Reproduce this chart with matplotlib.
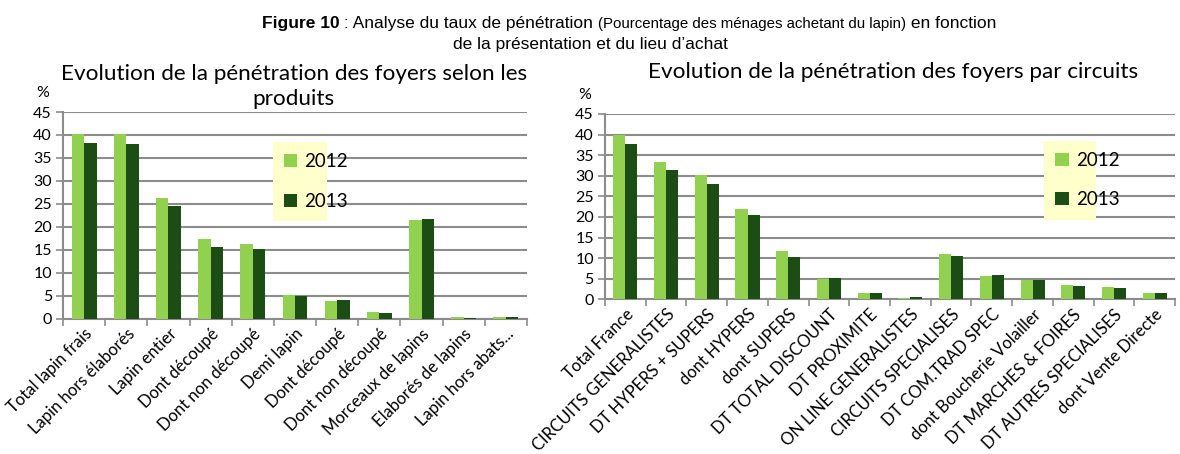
import numpy as np
import matplotlib
matplotlib.use("Agg")
import matplotlib.pyplot as plt
from matplotlib.transforms import offset_copy

# ---- data ----
produits = ["Total lapin frais", "Lapin hors élaborés", "Lapin entier",
            "Dont découpé", "Dont non découpé", "Demi lapin", "Dont découpé",
            "Dont non découpé", "Morceaux de lapins", "Elaborés de lapins",
            "Lapin hors abats..."]
produits_2012 = [40.3, 40.2, 26.2, 17.3, 16.4, 5.2, 3.9, 1.5, 21.6, 0.5, 0.4]
produits_2013 = [38.2, 38.1, 24.6, 15.7, 15.2, 5.0, 4.1, 1.2, 21.7, 0.3, 0.5]

circuits = ["Total France", "CIRCUITS GENERALISTES", "DT HYPERS + SUPERS",
            "dont HYPERS", "dont SUPERS", "DT TOTAL DISCOUNT", "DT PROXIMITE",
            "ON LINE GENERALISTES", "CIRCUITS SPECIALISES", "DT COM.TRAD SPEC",
            "dont Boucherie Volailler", "DT MARCHES & FOIRES",
            "DT AUTRES SPECIALISES", "dont Vente Directe"]
circuits_2012 = [40.0, 33.4, 30.1, 22.0, 11.7, 5.0, 1.6, 0.3, 10.9, 5.6, 4.7, 3.6, 2.9, 1.6]
circuits_2013 = [37.8, 31.4, 28.0, 20.5, 10.3, 5.2, 1.6, 0.7, 10.6, 5.9, 4.7, 3.3, 2.7, 1.5]

years = ["2012", "2013"]
yticks = [0, 5, 10, 15, 20, 25, 30, 35, 40, 45]

LIGHT = "#92d050"
DARK = "#1c4d15"
GRID = "#8c8c8c"
FONT = "Lato"

fig = plt.figure(figsize=(11.8, 4.54), dpi=100)


def draw_chart(rect, labels, v12, v13, legend_rect):
    ax = fig.add_axes(rect)
    x = np.arange(len(labels))
    w = 0.295
    b1 = ax.bar(x - w / 2, v12, w, color=LIGHT, zorder=3)
    b2 = ax.bar(x + w / 2, v13, w, color=DARK, zorder=3)
    ax.set_xlim(-0.5, len(labels) - 0.5)
    ax.set_ylim(0, 45)
    ax.set_yticks(yticks)
    ax.set_yticklabels([str(t) for t in yticks], fontsize=11.5, family=FONT)
    ax.grid(axis="y", color=GRID, linewidth=1.5, zorder=0)
    # category boundary ticks, labels at centres
    ax.set_xticks(np.arange(len(labels) + 1) - 0.5)
    ax.set_xticklabels([])
    ax.set_xticks(x, minor=True)
    ax.set_xticklabels(labels, minor=True, rotation=45, ha="right",
                       rotation_mode="anchor", fontsize=12, family=FONT)
    ax.tick_params(axis="x", which="minor", length=0, pad=5)
    ax.tick_params(axis="x", which="major", length=5, color=GRID, width=1.2)
    ax.tick_params(axis="y", length=5, color=GRID, width=1.2, pad=3)
    for s in ["top", "right"]:
        ax.spines[s].set_visible(False)
    for s in ["left", "bottom"]:
        ax.spines[s].set_color(GRID)
        ax.spines[s].set_linewidth(1.5)
    tr = offset_copy(ax.transAxes, fig=fig, x=-20, y=12, units="dots")
    ax.text(0, 1, "%", transform=tr, fontsize=11.5, family=FONT,
            ha="center", va="bottom")
    leg = ax.legend([b1, b2], years, loc="center", bbox_to_anchor=legend_rect,
                    bbox_transform=fig.transFigure, mode="expand",
                    facecolor="#ffffcc", edgecolor="none", framealpha=1,
                    fancybox=False, handlelength=0.7, handleheight=0.7,
                    handletextpad=0.4, labelspacing=1.2, borderpad=0.6,
                    prop={"family": FONT, "size": 13.5})
    leg.set_zorder(5)
    return ax


ax1 = draw_chart([0.0534, 0.2974, 0.3932, 0.4559], produits, produits_2012,
                 produits_2013, (0.223, 0.530, 0.062, 0.140))
ax2 = draw_chart([0.5127, 0.3405, 0.4831, 0.4085], circuits, circuits_2012,
                 circuits_2013, (0.877, 0.531, 0.060, 0.145))

fig.text(0.249, 0.810, "Evolution de la pénétration des foyers selon les\nproduits",
         ha="center", va="center", fontsize=16.2, family=FONT, linespacing=1.3)
fig.text(0.757, 0.842, "Evolution de la pénétration des foyers par circuits",
         ha="center", va="center", fontsize=16.2, family=FONT)

# ---- figure caption with mixed styles ----
renderer = fig.canvas.get_renderer()
parts = [("Figure 10", "bold", 12.5),
         (" : Analyse du taux de pénétration ", "normal", 12.5),
         ("(Pourcentage des ménages achetant du lapin)", "normal", 10.8),
         (" en fonction", "normal", 12.5)]
texts = []
total = 0
for s, wt, sz in parts:
    t = fig.text(0, 0.938, s, fontsize=sz, fontweight=wt,
                 family="Liberation Sans", ha="left", va="baseline")
    wpx = t.get_window_extent(renderer).width
    texts.append((t, wpx))
    total += wpx
x0 = 629 - total / 2
for t, wpx in texts:
    t.set_x(x0 / fig.bbox.width)
    x0 += wpx
fig.text(0.5, 0.893, "de la présentation et du lieu d\u2019achat", fontsize=12.5,
         family="Liberation Sans", ha="center", va="baseline")

fig.savefig("out.png", dpi=100)
